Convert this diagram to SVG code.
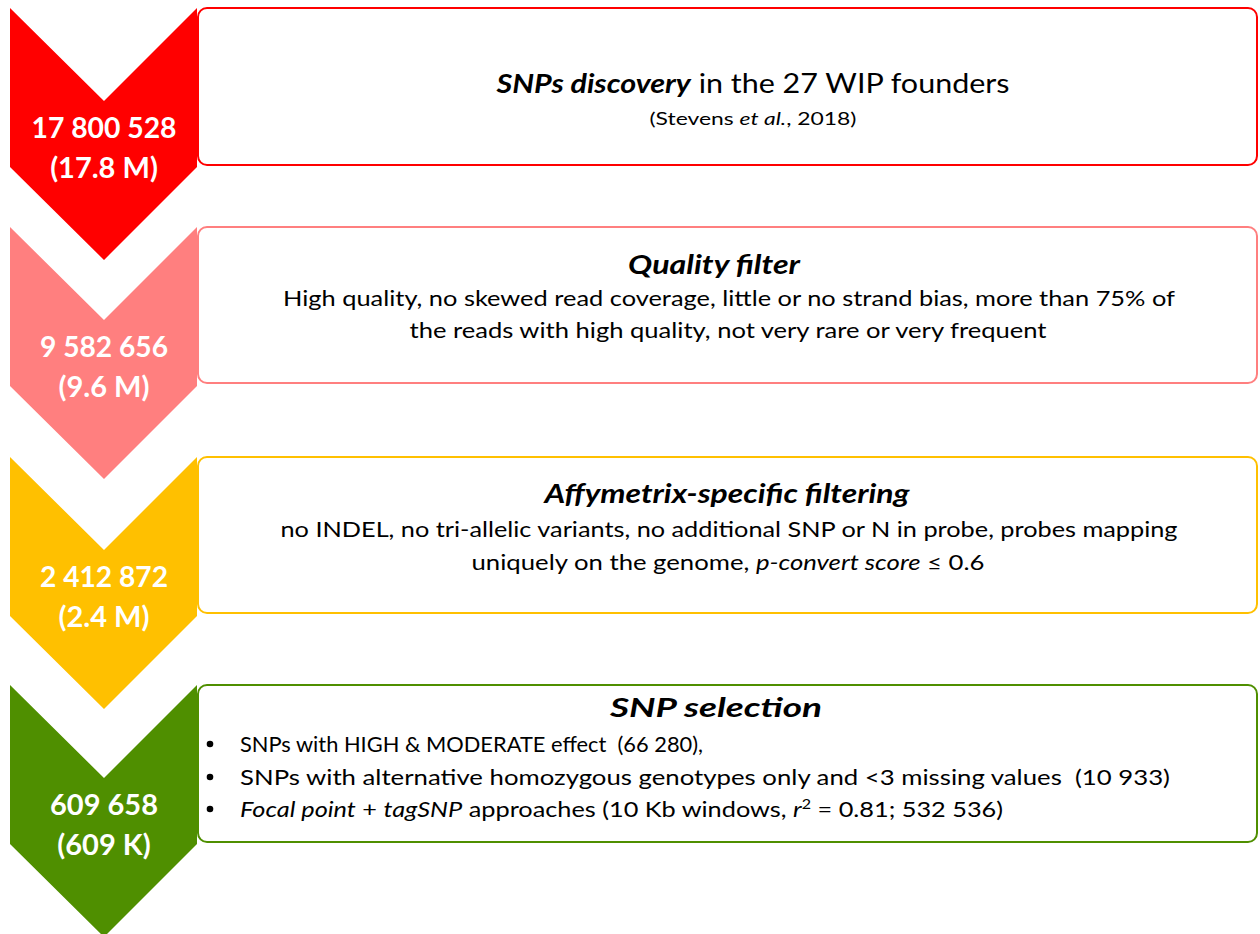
<svg xmlns="http://www.w3.org/2000/svg" width="1260" height="934" viewBox="0 0 1260 934">
  <style>
    .num { font-family: Lato, "Open Sans", sans-serif; font-weight: 700; font-size: 29px; fill: #ffffff; text-anchor: middle; }
    .title { font-family: Lato, "Open Sans", sans-serif; font-weight: 700; font-style: italic; font-size: 27px; fill: #000; text-anchor: middle; }
    .body { font-family: Lato, "Open Sans", sans-serif; font-size: 22px; fill: #000; }
    .mid { text-anchor: middle; }
    .it { font-style: italic; }
    .rg { font-weight: 400; font-style: normal; }
    .box { fill: #ffffff; stroke-width: 2; }
  </style>
  <rect width="1260" height="934" fill="#ffffff"/>

  <!-- Step 1: SNP discovery -->
  <g id="step1">
    <rect class="box" x="198" y="8" width="1059" height="157" rx="9" stroke="#ff0000"/>
    <polygon points="10,8 104,101 197,8 197,167 104,260 10,167" fill="#ff0000"/>
    <text class="num" x="104" y="138" textLength="145" lengthAdjust="spacingAndGlyphs">17 800 528</text>
    <text class="num" x="104" y="178">(17.8 M)</text>
    <text class="title" x="753" y="93" textLength="513" lengthAdjust="spacingAndGlyphs">SNPs discovery<tspan class="rg"> in the 27 WIP founders</tspan></text>
    <text class="body mid" x="753" y="125" style="font-size:18px" textLength="207" lengthAdjust="spacingAndGlyphs">(Stevens <tspan class="it">et al.</tspan>, 2018)</text>
  </g>

  <!-- Step 2: quality filter -->
  <g id="step2">
    <rect class="box" x="198" y="227" width="1059" height="156" rx="9" stroke="#ff7f7f"/>
    <polygon points="10,227 104,320 197,227 197,386 104,479 10,386" fill="#ff7f7f"/>
    <text class="num" x="104" y="357" textLength="128" lengthAdjust="spacingAndGlyphs">9 582 656</text>
    <text class="num" x="104" y="397">(9.6 M)</text>
    <text class="title" x="714" y="274" textLength="172" lengthAdjust="spacingAndGlyphs">Quality filter</text>
    <text class="body mid" x="729" y="306" textLength="892" lengthAdjust="spacingAndGlyphs">High quality, no skewed read coverage, little or no strand bias, more than 75% of</text>
    <text class="body mid" x="728" y="338" textLength="637" lengthAdjust="spacingAndGlyphs">the reads with high quality, not very rare or very frequent</text>
  </g>

  <!-- Step 3: Affymetrix filtering -->
  <g id="step3">
    <rect class="box" x="198" y="457" width="1059" height="156" rx="9" stroke="#ffc000"/>
    <polygon points="10,457 104,550 197,457 197,616 104,709 10,616" fill="#ffc000"/>
    <text class="num" x="104" y="587" textLength="128" lengthAdjust="spacingAndGlyphs">2 412 872</text>
    <text class="num" x="104" y="627">(2.4 M)</text>
    <text class="title" x="727" y="503" textLength="365" lengthAdjust="spacingAndGlyphs">Affymetrix-specific filtering</text>
    <text class="body mid" x="729" y="537" textLength="897" lengthAdjust="spacingAndGlyphs">no INDEL, no tri-allelic variants, no additional SNP or N in probe, probes mapping</text>
    <text class="body mid" x="728" y="570" textLength="513" lengthAdjust="spacingAndGlyphs">uniquely on the genome, <tspan class="it">p-convert score</tspan> ≤ 0.6</text>
  </g>

  <!-- Step 4: SNP selection -->
  <g id="step4">
    <rect class="box" x="198" y="685" width="1059" height="157" rx="9" stroke="#4f8f00"/>
    <polygon points="10,685 104,778 197,685 197,844 104,937 10,844" fill="#4f8f00"/>
    <text class="num" x="104" y="815">609 658</text>
    <text class="num" x="104" y="855">(609 K)</text>
    <text class="title" x="716" y="717" textLength="212" lengthAdjust="spacingAndGlyphs">SNP selection</text>
    <circle cx="210" cy="744" r="3.3" fill="#000"/>
    <circle cx="210" cy="777" r="3.3" fill="#000"/>
    <circle cx="210" cy="809" r="3.3" fill="#000"/>
    <text class="body" x="240" y="752" textLength="463" lengthAdjust="spacingAndGlyphs" xml:space="preserve">SNPs with HIGH &amp; MODERATE effect  (66 280),</text>
    <text class="body" x="240" y="785" textLength="930" lengthAdjust="spacingAndGlyphs" xml:space="preserve">SNPs with alternative homozygous genotypes only and &lt;3 missing values  (10 933)</text>
    <text class="body" x="240" y="817" textLength="763" lengthAdjust="spacingAndGlyphs"><tspan class="it">Focal point</tspan> + <tspan class="it">tagSNP</tspan> approaches (10 Kb windows, <tspan class="it">r</tspan><tspan style="font-size:14px" dy="-8">2</tspan><tspan dy="8"> = 0.81; 532 536)</tspan></text>
  </g>
</svg>
